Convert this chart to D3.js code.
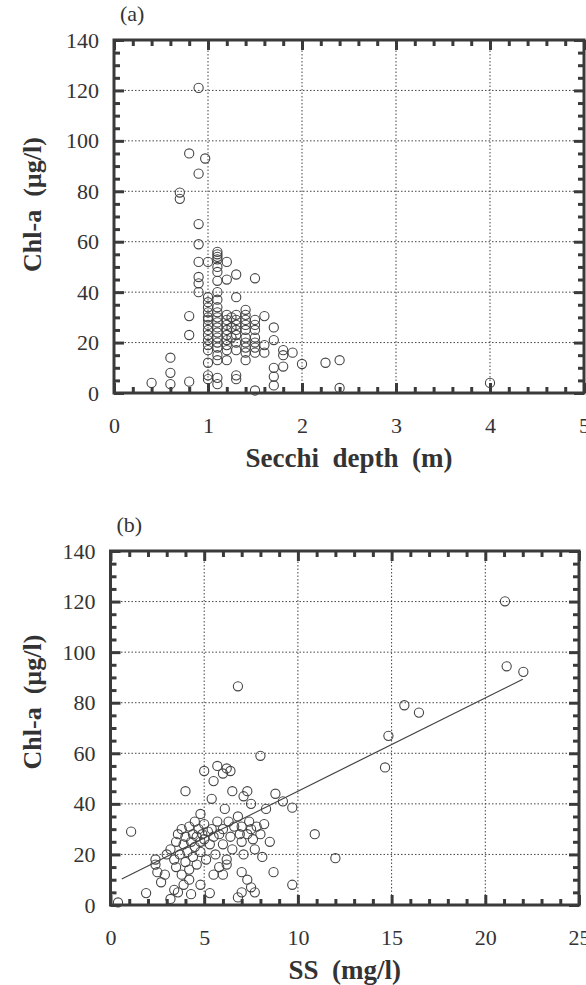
<!DOCTYPE html>
<meta charset="utf-8">
<head>
  <meta charset="utf-8">
  <title>Chl-a vs Secchi depth and SS</title>
</head>

<style>
body { margin: 0; background: #fff; }
svg text {
  font-family: 'Liberation Serif', 'Times New Roman', 'Nimbus Roman', 'DejaVu Serif';
  fill: #333;
}
.tick text { font-size: 22px; }
.panel-tag { font-size: 22px; }
.axis-title { font-size: 27px; font-weight: bold; }
.y-title { font-size: 26px; font-weight: bold; }
.frame { fill: none; stroke: #3a3a3a; stroke-width: 3px; }
.tick line { stroke: #3a3a3a; stroke-width: 3px; }
.grid line { stroke: #444; stroke-width: 1px; stroke-dasharray: 1.5,2; }
.dot { fill: none; stroke: #444; stroke-width: 1.1px; }
.fit { fill: none; stroke: #444; stroke-width: 1.2px; }
</style>

<body>
<script src="https://d3js.org/d3.v7.min.js"></script>
<script>

var serif = "'Liberation Serif', 'Times New Roman', 'Nimbus Roman', 'DejaVu Serif'";

// panel (a): Secchi depth (m) vs Chl-a (ug/l)
var secchiChl = [
  [0.4,4],[0.6,14],[0.6,8],[0.6,3.5],[0.7,79.5],[0.7,77],[0.8,95],[0.8,30.5],[0.8,23],[0.8,4.5],
  [0.9,121],[0.9,87],[0.97,93],[0.9,67],[0.9,59],[0.9,52],[0.9,46],[0.9,43.5],[0.9,40],
  [1.0,52],[1.0,38],[1.0,36],[1.0,34],[1.0,32],[1.0,30],[1.0,29],[1.0,27],[1.0,25],[1.0,23],
  [1.0,21],[1.0,19],[1.0,17],[1.0,12],[1.0,7],[1.0,5.5],
  [1.1,56],[1.1,55],[1.1,54],[1.1,53],[1.1,50],[1.1,48],[1.1,44.5],[1.1,40],[1.1,37],[1.1,34],
  [1.1,32],[1.1,30],[1.1,28],[1.1,26],[1.1,24],[1.1,22],[1.1,20],[1.1,18],[1.1,15],[1.1,13],
  [1.1,6],[1.1,3.5],
  [1.2,52],[1.2,45],[1.2,31],[1.2,29],[1.2,27],[1.2,25],[1.2,23],[1.2,21],[1.2,19],[1.2,17],[1.2,13],
  [1.25,30],[1.25,26],[1.25,22],
  [1.3,47],[1.3,38],[1.3,31],[1.3,29],[1.3,27],[1.3,25],[1.3,23],[1.3,20],[1.3,17],[1.3,7],[1.3,5.5],
  [1.4,33],[1.4,31],[1.4,29],[1.4,27],[1.4,25],[1.4,22],[1.4,20],[1.4,18],[1.4,16],[1.4,13],
  [1.5,45.5],[1.5,29],[1.5,27],[1.5,25],[1.5,22],[1.5,20],[1.5,18],[1.5,16],[1.5,1],
  [1.6,30.5],[1.6,19],[1.6,16],
  [1.7,26],[1.7,21],[1.7,10],[1.7,6.5],[1.7,3],
  [1.8,17],[1.8,15],[1.8,10.5],[1.9,16],[2.0,11.5],
  [2.25,12],[2.4,13],[2.4,2],[4.0,4]
];

// panel (b): SS (mg/l) vs Chl-a (ug/l)
var ssChl = [
  [0.4,1],[1.1,29],[1.9,4.7],[2.4,18],[2.4,16],[2.5,13],[2.7,9],[2.9,12],
  [3.0,20],[3.2,22],[3.2,2.4],[3.4,18],[3.4,6],[3.5,25],[3.5,15],[3.6,28],[3.6,5],[3.7,20],
  [3.8,12],[3.8,30],[3.9,24],[3.9,8],[4.0,17],[4.0,27],[4.0,45],[4.1,21],[4.2,31],[4.2,14],
  [4.2,10],[4.3,25],[4.3,4.3],[4.4,28],[4.4,19],[4.5,33],[4.5,23],[4.6,27],[4.6,16],[4.7,30],
  [4.8,25],[4.8,21],[4.8,8],[4.8,36],[4.9,28],[5.0,32],[5.0,26],[5.0,53],[5.1,18],[5.2,29],
  [5.3,24],[5.3,4.7],[5.4,30],[5.4,42],[5.5,27],[5.5,49],[5.5,12],[5.6,20],[5.7,33],[5.7,55],
  [5.8,28],[5.8,15],[6.0,30],[6.0,24],[6.0,52],[6.0,12],[6.1,38],[6.2,18],[6.2,54],[6.2,16],
  [6.3,33],[6.4,27],[6.4,53],[6.5,45],[6.5,22],[6.6,31],[6.8,35],[6.8,86.5],[6.8,3],[6.9,28],
  [7.0,25],[7.0,31],[7.0,13],[7.0,5],[7.1,20],[7.1,43],[7.3,28],[7.3,45],[7.3,10],[7.4,33],
  [7.5,40],[7.5,30],[7.5,7],[7.6,26],[7.7,22],[7.7,5],[7.8,31],[8.0,28],[8.0,59],[8.1,19],
  [8.2,32],[8.3,38],[8.5,25],[8.7,13],[8.8,44],[9.2,41],[9.7,38.5],[9.7,8],[10.9,28],[12.0,18.5],
  [14.65,54.4],[14.83,66.9],[15.68,79],[16.46,76.1],[21.05,120.1],[21.14,94.4],[22.03,92.2]
];

// fitted line through panel (b), end points
var fitLine = [[0.6,10.3],[22,89.3]];

var secchiMajor = [0,1,2,3,4,5];
var ssMajor = [0,5,10,15,20,25];
var chlMajor = [0,20,40,60,80,100,120,140];

var svg = d3.select("body").append("svg")
    .attr("width", 586)
    .attr("height", 985);

function drawPanel(o) {
  var width = o.right - o.left,
      height = o.bottom - o.top;

  var g = svg.append("g")
      .attr("transform", "translate(" + o.left + "," + o.top + ")");

  var x = d3.scaleLinear().domain(o.xDomain).range([0, width]);
  var y = d3.scaleLinear().domain([0, 140]).range([height, 0]);
  var fmt = d3.format("d");

  // dotted grid at the inner major ticks
  var grid = g.append("g").attr("class", "grid");
  grid.selectAll(".gx")
      .data(o.xMajor.slice(1, -1))
    .enter().append("line")
      .attr("x1", function(d) { return x(d); })
      .attr("x2", function(d) { return x(d); })
      .attr("y1", 0).attr("y2", height);
  grid.selectAll(".gy")
      .data(chlMajor.slice(1, -1))
    .enter().append("line")
      .attr("y1", function(d) { return y(d); })
      .attr("y2", function(d) { return y(d); })
      .attr("x1", 0).attr("x2", width);

  var xMinor = d3.range(o.xDomain[0], o.xDomain[1] + 1e-9, o.xMinorStep)
      .filter(function(v) { return o.xMajor.every(function(m) { return Math.abs(m - v) > 1e-6; }); });
  var yMinor = d3.range(0, 141, 5)
      .filter(function(v) { return v % 20 !== 0; });

  // inward ticks on all four sides
  g.append("g")
      .attr("transform", "translate(0," + height + ")")
      .call(d3.axisBottom(x).tickValues(o.xMajor).tickFormat(fmt).tickSize(-10).tickPadding(24));
  g.append("g")
      .attr("transform", "translate(0," + height + ")")
      .call(d3.axisBottom(x).tickValues(xMinor).tickSize(-6).tickFormat(""));
  g.append("g")
      .call(d3.axisTop(x).tickValues(o.xMajor).tickSize(-10).tickFormat(""));
  g.append("g")
      .call(d3.axisTop(x).tickValues(xMinor).tickSize(-6).tickFormat(""));
  g.append("g")
      .call(d3.axisLeft(y).tickValues(chlMajor).tickFormat(fmt).tickSize(-10).tickPadding(15));
  g.append("g")
      .call(d3.axisLeft(y).tickValues(yMinor).tickSize(-6).tickFormat(""));
  g.append("g")
      .attr("transform", "translate(" + width + ",0)")
      .call(d3.axisRight(y).tickValues(chlMajor).tickSize(-10).tickFormat(""));
  g.append("g")
      .attr("transform", "translate(" + width + ",0)")
      .call(d3.axisRight(y).tickValues(yMinor).tickSize(-6).tickFormat(""));

  g.selectAll(".domain").remove();
  g.selectAll(".tick text")
      .attr("fill", "#333")
      .style("font-family", serif);

  g.append("rect")
      .attr("class", "frame")
      .attr("width", width)
      .attr("height", height);

  if (o.fit) {
    g.append("path")
        .datum(o.fit)
        .attr("class", "fit")
        .attr("d", d3.line()
          .x(function(d) { return x(d[0]); })
          .y(function(d) { return y(d[1]); }));
  }

  g.selectAll(".dot")
      .data(o.points)
    .enter().append("circle")
      .attr("class", "dot")
      .attr("cx", function(d) { return x(d[0]); })
      .attr("cy", function(d) { return y(d[1]); })
      .attr("r", 4.6);

  g.append("text")
      .attr("class", "panel-tag")
      .attr("x", 6)
      .attr("y", -19)
      .style("font-family", serif)
      .text(o.tag);

  g.append("text")
      .attr("class", "axis-title")
      .attr("x", width / 2)
      .attr("y", height + 74)
      .attr("text-anchor", "middle")
      .attr("xml:space", "preserve")
      .style("font-family", serif)
      .text(o.xTitle);

  g.append("text")
      .attr("class", "y-title")
      .attr("transform", "translate(" + (32 - o.left) + "," + (height / 2 + o.yTitleShift) + ") rotate(-90)")
      .attr("dy", "0.35em")
      .attr("text-anchor", "middle")
      .attr("xml:space", "preserve")
      .style("font-family", serif)
      .text("Chl-a  (\u00b5g/l)");
}

drawPanel({
  tag: "(a)", left: 114, right: 584, top: 40, bottom: 393,
  xDomain: [0, 5], xMajor: secchiMajor, xMinorStep: 0.2,
  points: secchiChl, xTitle: "Secchi  depth  (m)", yTitleShift: -12
});

drawPanel({
  tag: "(b)", left: 110.5, right: 579, top: 551, bottom: 905,
  xDomain: [0, 25], xMajor: ssMajor, xMinorStep: 1,
  points: ssChl, fit: fitLine, xTitle: "SS  (mg/l)", yTitleShift: -26
});

</script>
</body>
